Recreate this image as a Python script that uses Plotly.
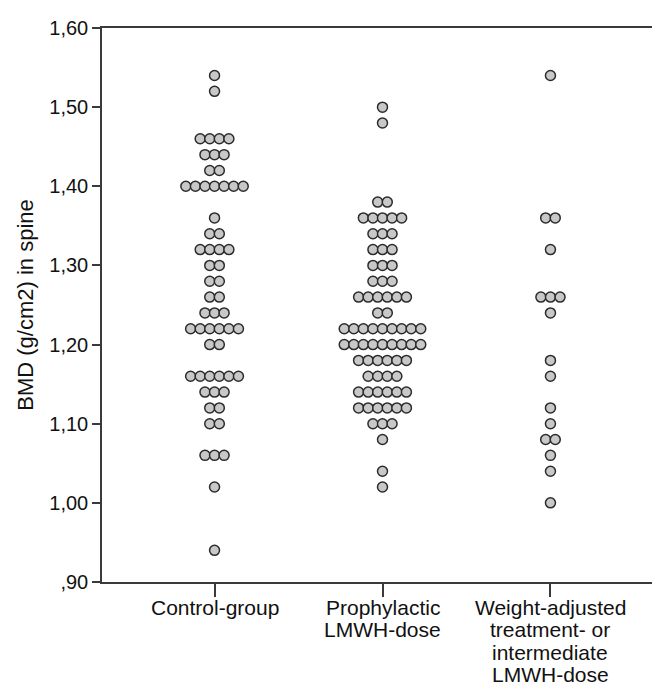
import plotly.graph_objects as go
from collections import Counter

categories = [["Control-group"],
              ["Prophylactic", "LMWH-dose"],
              ["Weight-adjusted", "treatment- or", "intermediate", "LMWH-dose"]]

control_bmd = ([1.54, 1.52] + [1.46] * 4 + [1.44] * 3 + [1.42] * 2 + [1.40] * 7 + [1.36]
               + [1.34] * 2 + [1.32] * 4 + [1.30] * 2 + [1.28] * 2 + [1.26] * 2 + [1.24] * 3
               + [1.22] * 6 + [1.20] * 2 + [1.16] * 6 + [1.14] * 3 + [1.12] * 2 + [1.10] * 2
               + [1.06] * 3 + [1.02, 0.94])

prophylactic_bmd = ([1.50, 1.48] + [1.38] * 2 + [1.36] * 5 + [1.34] * 3 + [1.32] * 3
                    + [1.30] * 3 + [1.28] * 3 + [1.26] * 6 + [1.24] * 2 + [1.22] * 9
                    + [1.20] * 9 + [1.18] * 6 + [1.16] * 4 + [1.14] * 6 + [1.12] * 6
                    + [1.10] * 3 + [1.08, 1.04, 1.02])

weight_adjusted_bmd = ([1.54] + [1.36] * 2 + [1.32] + [1.26] * 3 + [1.24, 1.18, 1.16, 1.12, 1.10]
                       + [1.08] * 2 + [1.06, 1.04, 1.00])

y_tickvals = [0.90, 1.00, 1.10, 1.20, 1.30, 1.40, 1.50, 1.60]
y_ticktext = [",90", "1,00", "1,10", "1,20", "1,30", "1,40", "1,50", "1,60"]

groups = [control_bmd, prophylactic_bmd, weight_adjusted_bmd]

W, H = 660, 690
ml, mr, mt, mb = 94, 3, 20, 116
x_range = [-0.67, 2.67]
px_per_unit = (W - ml - mr) / (x_range[1] - x_range[0])
dot_step = 9.6 / px_per_unit

fig = go.Figure()
for gi, vals in enumerate(groups):
    counts = Counter(vals)
    xs, ys = [], []
    for v, n in counts.items():
        for k in range(n):
            xs.append(gi + (k - (n - 1) / 2) * dot_step)
            ys.append(v)
    fig.add_trace(go.Scatter(
        x=xs, y=ys, mode="markers", showlegend=False, hoverinfo="y",
        marker=dict(size=10, color="#c8c8c8", line=dict(color="#2b2b2b", width=1.5)),
    ))

font = "Liberation Sans, Arial, sans-serif"
# category labels with tight line spacing (one annotation per line)
for gi, lines in enumerate(categories):
    for k, line in enumerate(lines):
        fig.add_annotation(
            x=gi, y=0, xref="x", yref="paper", text=line, showarrow=False,
            xanchor="center", yanchor="middle", yshift=-(25 + 22.5 * k),
            font=dict(family=font, size=21, color="#111"),
        )

fig.update_layout(
    width=W, height=H,
    margin=dict(l=ml, r=mr, t=mt, b=mb),
    paper_bgcolor="white", plot_bgcolor="white",
    font=dict(family=font, size=20, color="#111"),
)
fig.update_xaxes(
    range=x_range, tickvals=[0, 1, 2], ticktext=["", "", ""],
    showgrid=False, zeroline=False, showline=True, mirror=True,
    linecolor="#3a3a3a", linewidth=1.5,
    ticks="outside", ticklen=13, tickwidth=1.5, tickcolor="#3a3a3a",
)
fig.update_yaxes(
    range=[0.90, 1.60], tickvals=y_tickvals, ticktext=y_ticktext,
    showgrid=False, zeroline=False, showline=True, mirror=True,
    linecolor="#3a3a3a", linewidth=1.5,
    ticks="outside", ticklen=8, tickwidth=1.5, tickcolor="#3a3a3a",
    tickfont=dict(size=20),
    title=dict(text="BMD (g/cm2) in spine", font=dict(size=22), standoff=10),
)

fig.write_html("out.html")
